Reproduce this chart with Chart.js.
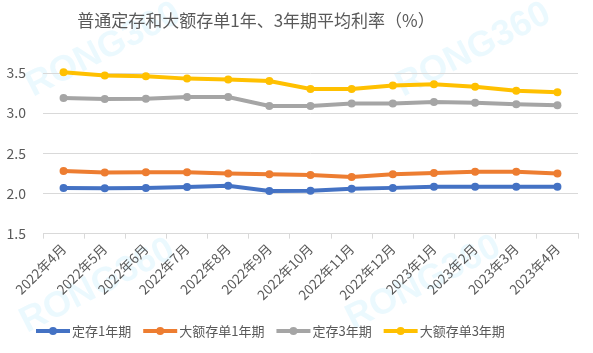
<!DOCTYPE html>
<html><head><meta charset="utf-8">
<script src="https://cdn.jsdelivr.net/npm/chart.js@4.4.0/dist/chart.umd.min.js"></script>
<style>html,body{margin:0;padding:0;background:#fff}#wrap{width:593px;height:353px}</style>
</head><body><div id="wrap"><canvas id="c" width="593" height="353"></canvas></div>
<script>
const titleText = '普通定存和大额存单1年、3年期平均利率（%）';
const categories = ['2022年4月','2022年5月','2022年6月','2022年7月','2022年8月','2022年9月','2022年10月','2022年11月','2022年12月','2023年1月','2023年2月','2023年3月','2023年4月'];
const seriesNames = ['定存1年期','大额存单1年期','定存3年期','大额存单3年期'];
const dingcun1 = [2.07,2.065,2.07,2.08,2.095,2.03,2.033,2.058,2.07,2.083,2.083,2.083,2.083];
const dae1 = [2.28,2.26,2.265,2.265,2.25,2.24,2.23,2.205,2.24,2.255,2.27,2.27,2.25];
const dingcun3 = [3.19,3.175,3.18,3.20,3.20,3.09,3.09,3.12,3.12,3.14,3.13,3.11,3.10];
const dae3 = [3.51,3.47,3.46,3.43,3.42,3.40,3.30,3.30,3.345,3.36,3.33,3.28,3.26];
const yTicks = [1.5,2.0,2.5,3.0,3.5];
const colors = ['#4472C4','#ED7D31','#A5A5A5','#FFC000'];
const FONT = '"Noto Sans CJK SC","Noto Sans",sans-serif';
const TXT = '#595959';

const values = [dingcun1, dae1, dingcun3, dae3];
const datasets = values.map((v,i)=>({
  label: seriesNames[i], data: v, borderColor: colors[i], backgroundColor: colors[i],
  borderWidth: 4, pointRadius: 4, pointHoverRadius: 4, pointBorderWidth: 0,
  tension: 0, clip: false
}));

const watermark = {
  id:'wm',
  beforeDraw(chart){
    const ctx = chart.ctx;
    const marks = [[33,97],[403,97],[27,333],[353,330]];
    ctx.save();
    ctx.fillStyle = 'rgba(0,176,240,0.08)';
    ctx.font = 'bold 36px "Liberation Sans",sans-serif';
    ctx.textBaseline = 'alphabetic';
    marks.forEach(([x,y])=>{
      ctx.save(); ctx.translate(x,y); ctx.rotate(-27*Math.PI/180);
      ctx.fillText('RONG360',0,0); ctx.restore();
    });
    ctx.restore();
  }
};
const extras = {
  id:'extras',
  afterDraw(chart){
    const ctx = chart.ctx;
    ctx.save();
    ctx.fillStyle = TXT;
    ctx.font = '17px ' + FONT;
    ctx.textAlign = 'center'; ctx.textBaseline = 'middle';
    ctx.fillText(titleText, 256, 21);
    ctx.font = '13px ' + FONT;
    ctx.textAlign = 'left';
    let x = 36; const y = 331;
    chart.data.datasets.forEach((ds)=>{
      ctx.strokeStyle = ds.borderColor; ctx.lineWidth = 4;
      ctx.beginPath(); ctx.moveTo(x,y); ctx.lineTo(x+34,y); ctx.stroke();
      ctx.fillStyle = ds.borderColor;
      ctx.beginPath(); ctx.arc(x+17,y,4,0,Math.PI*2); ctx.fill();
      ctx.fillStyle = TXT;
      ctx.fillText(ds.label, x+36, y);
      x += 36 + ctx.measureText(ds.label).width + 12;
    });
    ctx.restore();
  }
};

new Chart(document.getElementById('c'), {
  type:'line',
  data:{labels:categories, datasets},
  plugins:[watermark, extras],
  options:{
    responsive:false, animation:false,
    layout:{padding:{left:6,right:15,top:73,bottom:48}},
    plugins:{legend:{display:false}, title:{display:false}, tooltip:{enabled:false}},
    scales:{
      x:{
        offset:true,
        afterFit(axis){ axis.paddingLeft = 0; axis.paddingRight = 0; },
        grid:{offset:true, drawOnChartArea:false, drawTicks:true, tickLength:5, color:'#D9D9D9'},
        border:{display:true, color:'#D9D9D9'},
        ticks:{color:TXT, font:{family:FONT, size:13.5}, maxRotation:45, minRotation:45, autoSkip:false, padding:2}
      },
      y:{
        min:1.5, max:3.5,
        afterFit(axis){ axis.width = 37; },
        afterBuildTicks(axis){ axis.ticks = yTicks.map(v=>({value:v})); },
        grid:{color:'#D9D9D9', drawTicks:false},
        border:{display:false},
        ticks:{color:TXT, font:{family:FONT, size:14}, padding:17, callback:v=>v.toFixed(1)}
      }
    }
  }
});
</script></body></html>
